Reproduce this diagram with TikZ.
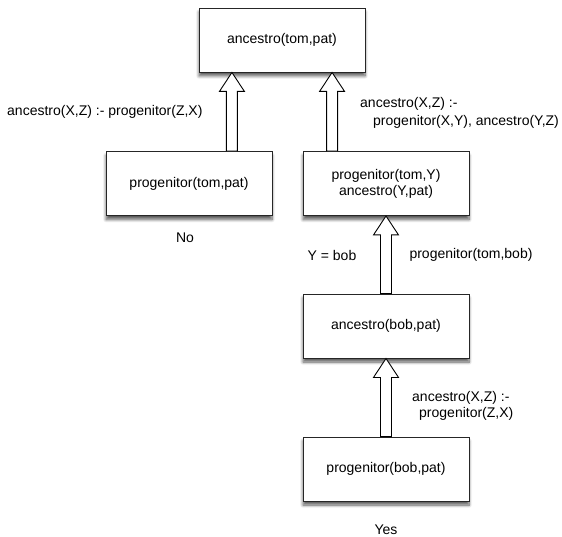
\documentclass[tikz,border=0pt]{standalone}
\usepackage{fontspec}
\setmainfont{Liberation Sans}
\usetikzlibrary{calc,shadows.blur}

% hollow inference arrow: shaft starts at #1, tip touches #2
\newcommand{\hollowarrow}[2]{%
  \draw[arrowline] ($(#1)+(-5.5,0)$) -- ($(#2)+(-5.5,-19)$) -- ($(#2)+(-12.5,-19)$) -- (#2)
    -- ($(#2)+(12.5,-19)$) -- ($(#2)+(5.5,-19)$) -- ($(#1)+(5.5,0)$) -- cycle;}

\begin{document}
\begin{tikzpicture}[x=1pt,y=1pt,
    every node/.style={font=\fontsize{14}{16}\selectfont},
    goal/.style={rectangle,draw=black!85,fill=white,line width=0.9pt,minimum width=166pt,minimum height=64pt,inner sep=0pt,align=center,
      blur shadow={shadow xshift=0pt,shadow yshift=-4pt,shadow blur radius=3pt,shadow blur steps=8,shadow opacity=65}},
    arrowline/.style={draw=black,fill=white,line width=0.9pt,line join=miter},
    rule/.style={align=left,inner sep=0pt,anchor=west},
    answer/.style={inner sep=0pt}
]
    \useasboundingbox (0,0) rectangle (562,-537);

    % goals
    \node[goal] (top) at (282,-40) {ancestro(tom,pat)};
    \node[goal] (notom) at (189,-183.5) {progenitor(tom,pat)};
    \node[goal] (conj) at (386,-183.5) {progenitor(tom,Y)\\ancestro(Y,pat)};
    \node[goal] (bobanc) at (386,-326) {ancestro(bob,pat)};
    \node[goal] (bobpro) at (386,-469) {progenitor(bob,pat)};

    % where the arrows meet the top goal
    \coordinate (s1) at ($(top.south west)!0.2!(top.south east)$);
    \coordinate (s2) at ($(top.south west)!0.8!(top.south east)$);

    \hollowarrow{notom.north -| s1}{s1}
    \hollowarrow{conj.north -| s2}{s2}
    \hollowarrow{bobanc.north}{conj.south}
    \hollowarrow{bobpro.north}{bobanc.south}

    % clauses and substitutions
    \node[rule] (r1) at (7,-112) {ancestro(X,Z) :- progenitor(Z,X)};
    \node[rule] (r2) at (360,-112.5) {ancestro(X,Z) :-\\[2pt]\hspace{13pt}progenitor(X,Y), ancestro(Y,Z)};
    \node[answer] (subst) at (332,-255) {Y = bob};
    \node[answer] (fact) at (471,-255) {progenitor(tom,bob)};
    \node[rule] (r3) at (412,-405.5) {ancestro(X,Z) :-\\\hspace{7pt}progenitor(Z,X)};

    % outcomes
    \node[answer] (no) at (185,-238) {No};
    \node[answer] (yes) at (386,-530) {Yes};
\end{tikzpicture}
\end{document}
